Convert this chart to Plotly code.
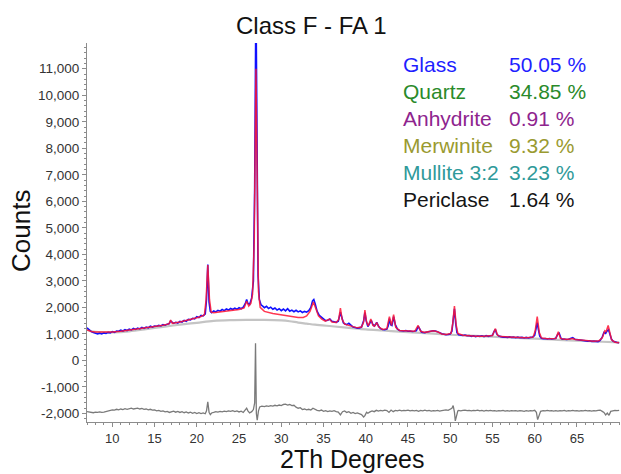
import plotly.graph_objects as go

# ---------------- data ----------------
title_text = "Class F - FA 1"
x_title = "2Th Degrees"
y_title = "Counts"

phase_names = ["Glass", "Quartz", "Anhydrite", "Merwinite", "Mullite 3:2", "Periclase"]
phase_values = ["50.05 %", "34.85 %", "0.91 %", "9.32 %", "3.23 %", "1.64 %"]
phase_colors = ["#1f1fff", "#2a8a2a", "#8e248e", "#9a9a30", "#2f9a9a", "#151515"]

x_tick_vals = [10, 15, 20, 25, 30, 35, 40, 45, 50, 55, 60, 65]
x_tick_text = ["10", "15", "20", "25", "30", "35", "40", "45", "50", "55", "60", "65"]
y_tick_vals = [-2000, -1000, 0, 1000, 2000, 3000, 4000, 5000, 6000, 7000, 8000, 9000, 10000, 11000]
y_tick_text = ["-2,000", "-1,000", "0", "1,000", "2,000", "3,000", "4,000", "5,000",
               "6,000", "7,000", "8,000", "9,000", "10,000", "11,000"]

observed_pts = [
    (7.0, 1230), (7.25, 1150), (7.5, 1090), (7.75, 1050), (8.0, 1030), (8.25, 1000), (8.5, 1030),
    (8.75, 1000), (9.0, 1040), (9.25, 1020), (9.5, 1060), (9.75, 1040), (10.0, 1090), (10.25, 1060),
    (10.5, 1110), (10.75, 1100), (11.0, 1140), (11.25, 1110), (11.5, 1160), (11.75, 1130), (12.0, 1180),
    (12.25, 1150), (12.5, 1210), (12.75, 1170), (13.0, 1220), (13.25, 1190), (13.5, 1250), (13.75, 1210),
    (14.0, 1260), (14.25, 1230), (14.5, 1290), (14.75, 1260), (15.0, 1300), (15.25, 1290), (15.5, 1320),
    (15.75, 1300), (16.0, 1350), (16.25, 1330), (16.5, 1370), (16.75, 1390), (16.9, 1490), (17.1, 1420),
    (17.25, 1400), (17.5, 1440), (17.75, 1410), (18.0, 1470), (18.25, 1450), (18.5, 1510), (18.75, 1480),
    (19.0, 1550), (19.25, 1530), (19.5, 1590), (19.75, 1570), (20.0, 1650), (20.25, 1620), (20.5, 1700),
    (20.75, 1680), (21.0, 1760), (21.15, 2300), (21.3, 3620), (21.45, 2200), (21.6, 1850), (21.75, 1800),
    (22.0, 1870), (22.25, 1830), (22.5, 1890), (22.75, 1860), (23.0, 1920), (23.25, 1880), (23.5, 1940),
    (23.75, 1900), (24.0, 1960), (24.25, 1920), (24.5, 1970), (24.75, 1930), (25.0, 1990), (25.25, 1950),
    (25.5, 2010), (25.75, 2150), (25.9, 2300), (26.05, 2150), (26.25, 2110), (26.5, 2360), (26.7, 3000),
    (26.85, 6500), (27.0, 13800), (27.1, 8000), (27.25, 3200), (27.4, 2300), (27.6, 2100), (27.8, 2050),
    (28.0, 1990), (28.25, 2040), (28.5, 1960), (28.75, 2010), (29.0, 1930), (29.25, 1980), (29.5, 1900),
    (29.75, 1950), (30.0, 1880), (30.25, 1940), (30.5, 1870), (30.75, 1950), (31.0, 1860), (31.25, 1900),
    (31.5, 1840), (31.75, 1890), (32.0, 1830), (32.25, 1870), (32.5, 1810), (32.75, 1850), (33.0, 1820),
    (33.25, 1880), (33.5, 2000), (33.7, 2250), (33.85, 2300), (34.0, 2150), (34.25, 1850), (34.5, 1700),
    (34.75, 1620), (35.0, 1560), (35.25, 1500), (35.5, 1520), (35.75, 1560), (36.0, 1480), (36.25, 1460),
    (36.5, 1440), (36.75, 1480), (37.0, 1820), (37.15, 1650), (37.35, 1420), (37.5, 1380), (37.75, 1350),
    (38.0, 1400), (38.25, 1330), (38.5, 1260), (38.75, 1240), (39.0, 1220), (39.25, 1230), (39.5, 1260),
    (39.75, 1500), (39.9, 1800), (40.05, 1500), (40.25, 1280), (40.5, 1420), (40.65, 1520), (40.85, 1350),
    (41.0, 1300), (41.15, 1350), (41.3, 1440), (41.5, 1300), (41.75, 1200), (42.0, 1170), (42.25, 1160),
    (42.5, 1180), (42.65, 1300), (42.8, 1580), (42.95, 1350), (43.1, 1320), (43.3, 1650), (43.5, 1350),
    (43.75, 1180), (44.0, 1130), (44.25, 1120), (44.5, 1110), (44.75, 1130), (45.0, 1100), (45.25, 1110),
    (45.5, 1090), (45.75, 1100), (46.0, 1130), (46.2, 1290), (46.4, 1150), (46.6, 1070), (46.75, 1060),
    (47.0, 1050), (47.25, 1070), (47.5, 1090), (47.75, 1110), (48.0, 1120), (48.25, 1110), (48.5, 1090),
    (48.75, 1050), (49.0, 1010), (49.25, 980), (49.5, 970), (49.75, 980), (50.0, 1000), (50.2, 1100),
    (50.35, 1500), (50.5, 1950), (50.65, 1400), (50.8, 1050), (51.0, 970), (51.25, 950), (51.5, 940),
    (51.75, 960), (52.0, 930), (52.25, 940), (52.5, 910), (52.75, 930), (53.0, 900), (53.25, 920),
    (53.5, 910), (53.75, 930), (54.0, 900), (54.25, 940), (54.5, 910), (54.75, 930), (55.0, 950),
    (55.2, 1100), (55.35, 1170), (55.5, 1000), (55.75, 920), (56.0, 900), (56.25, 880), (56.5, 890),
    (56.75, 870), (57.0, 890), (57.25, 870), (57.5, 880), (57.75, 860), (58.0, 880), (58.25, 860),
    (58.5, 870), (58.75, 850), (59.0, 870), (59.25, 850), (59.5, 870), (59.75, 880), (60.0, 950),
    (60.15, 1150), (60.3, 1430), (60.45, 1150), (60.6, 920), (60.8, 840), (61.0, 820), (61.25, 830),
    (61.5, 810), (61.75, 830), (62.0, 810), (62.25, 820), (62.5, 840), (62.75, 1000), (62.9, 1030),
    (63.1, 850), (63.25, 800), (63.5, 810), (63.75, 790), (64.0, 800), (64.25, 820), (64.5, 860),
    (64.75, 800), (65.0, 790), (65.25, 770), (65.5, 760), (65.75, 740), (66.0, 750), (66.25, 730),
    (66.5, 740), (66.75, 720), (67.0, 730), (67.25, 720), (67.5, 710), (67.75, 760), (68.0, 880),
    (68.2, 1060), (68.4, 1020), (68.6, 1130), (68.75, 1160), (68.9, 1000), (69.1, 800), (69.3, 720),
    (69.5, 690), (69.75, 680), (70.0, 670),
]

calculated_pts = [
    (7.0, 1150), (7.5, 1090), (8.0, 1070), (9.0, 1060), (10.0, 1070), (11.0, 1100), (12.0, 1140),
    (13.0, 1180), (14.0, 1230), (15.0, 1280), (16.0, 1330), (16.7, 1380), (16.9, 1520), (17.1, 1400),
    (18.0, 1450), (19.0, 1520), (20.0, 1610), (20.5, 1660), (20.9, 1720), (21.1, 2300), (21.3, 3600),
    (21.5, 2300), (21.7, 1820), (22.0, 1800), (23.0, 1840), (24.0, 1880), (25.0, 1920), (25.6, 1980),
    (25.9, 2230), (26.15, 2050), (26.4, 2150), (26.6, 2500), (26.8, 4500), (27.0, 11000), (27.15, 5500),
    (27.3, 2600), (27.5, 2000), (28.0, 1850), (29.0, 1770), (30.0, 1720), (31.0, 1690), (32.0, 1620),
    (32.6, 1620), (33.0, 1680), (33.4, 1850), (33.8, 2200), (34.1, 1950), (34.4, 1680), (34.8, 1560),
    (35.2, 1480), (35.7, 1560), (36.0, 1450), (36.5, 1430), (36.8, 1550), (37.0, 1970), (37.2, 1550),
    (37.5, 1370), (38.0, 1320), (38.5, 1260), (39.0, 1230), (39.5, 1260), (39.75, 1450), (39.9, 1900),
    (40.1, 1450), (40.3, 1300), (40.6, 1560), (40.85, 1320), (41.05, 1300), (41.3, 1430), (41.55, 1260),
    (42.0, 1170), (42.5, 1200), (42.8, 1650), (43.05, 1320), (43.3, 1730), (43.55, 1250), (44.0, 1130),
    (45.0, 1100), (45.8, 1100), (46.2, 1320), (46.5, 1100), (47.0, 1060), (47.5, 1090), (48.0, 1120),
    (48.5, 1080), (49.0, 1000), (49.5, 980), (50.1, 1020), (50.3, 1400), (50.5, 2050), (50.7, 1350),
    (50.9, 1020), (51.5, 950), (52.0, 930), (53.0, 910), (54.0, 910), (55.0, 940), (55.35, 1200),
    (55.6, 950), (56.0, 900), (57.0, 880), (58.0, 870), (59.0, 860), (59.8, 880), (60.05, 1100),
    (60.3, 1650), (60.55, 1050), (60.8, 850), (61.5, 820), (62.5, 830), (62.8, 1080), (63.05, 830),
    (63.5, 800), (64.0, 800), (64.5, 830), (64.8, 790), (65.5, 760), (66.0, 740), (67.0, 720),
    (67.6, 740), (68.0, 850), (68.3, 1120), (68.45, 1080), (68.7, 1320), (68.9, 1050), (69.1, 780),
    (69.5, 690), (70.0, 670),
]

background_pts = [
    (7.0, 1150), (8.0, 1080), (9.0, 1060), (10.0, 1060), (12.0, 1100), (14.0, 1180), (16.0, 1270),
    (18.0, 1350), (20.0, 1420), (22.0, 1490), (24.0, 1520), (26.0, 1530), (28.0, 1530), (30.0, 1510),
    (31.0, 1480), (32.0, 1430), (33.0, 1390), (34.0, 1350), (36.0, 1290), (38.0, 1230), (40.0, 1170),
    (42.0, 1130), (44.0, 1090), (46.0, 1050), (48.0, 1010), (50.0, 970), (52.0, 940), (54.0, 910),
    (56.0, 880), (58.0, 850), (60.0, 820), (62.0, 790), (64.0, 760), (66.0, 735), (68.0, 705),
    (70.0, 680),
]

difference_pts = [
    (7.0, -1930), (7.25, -1950), (7.5, -1960), (7.75, -1970), (8.0, -1950), (8.25, -1960), (8.5, -1940),
    (8.75, -1960), (9.0, -1950), (9.25, -1930), (9.5, -1890), (9.75, -1880), (10.0, -1860), (10.25, -1870),
    (10.5, -1840), (10.75, -1860), (11.0, -1830), (11.25, -1850), (11.5, -1820), (11.75, -1840),
    (12.0, -1820), (12.25, -1800), (12.5, -1830), (12.75, -1810), (13.0, -1800), (13.25, -1830),
    (13.5, -1810), (13.75, -1840), (14.0, -1830), (14.25, -1860), (14.5, -1840), (14.75, -1870),
    (15.0, -1860), (15.25, -1900), (15.5, -1880), (15.75, -1920), (16.0, -1900), (16.25, -1940),
    (16.5, -1920), (16.75, -1960), (17.0, -1940), (17.25, -1910), (17.5, -1950), (17.75, -1920),
    (18.0, -1960), (18.25, -1930), (18.5, -1970), (18.75, -1940), (19.0, -1980), (19.25, -1950),
    (19.5, -1990), (19.75, -1960), (20.0, -2000), (20.25, -1970), (20.5, -2000), (20.75, -1980),
    (21.0, -2010), (21.15, -1900), (21.3, -1560), (21.45, -1950), (21.6, -2040), (21.75, -1980),
    (22.0, -1960), (22.25, -1930), (22.5, -1950), (22.75, -1920), (23.0, -1940), (23.25, -1910),
    (23.5, -1930), (23.75, -1900), (24.0, -1920), (24.25, -1890), (24.5, -1930), (24.75, -1900),
    (25.0, -1940), (25.25, -1910), (25.5, -1960), (25.75, -1880), (25.9, -1800), (26.05, -1900),
    (26.25, -1980), (26.5, -1930), (26.7, -1850), (26.85, -1600), (26.95, 650), (27.05, -2000),
    (27.15, -2250), (27.3, -1900), (27.45, -1750), (27.7, -1720), (28.0, -1740), (28.25, -1710),
    (28.5, -1730), (28.75, -1700), (29.0, -1720), (29.25, -1690), (29.5, -1710), (29.75, -1680),
    (30.0, -1700), (30.25, -1660), (30.5, -1650), (30.75, -1680), (31.0, -1660), (31.25, -1700),
    (31.5, -1690), (31.75, -1760), (32.0, -1800), (32.25, -1780), (32.5, -1850), (32.75, -1830),
    (33.0, -1860), (33.25, -1840), (33.5, -1870), (33.75, -1800), (34.0, -1850), (34.25, -1880),
    (34.5, -1900), (34.75, -1870), (35.0, -1920), (35.25, -1890), (35.5, -1930), (35.75, -1900),
    (36.0, -1920), (36.25, -1890), (36.5, -1930), (36.75, -1950), (37.0, -2050), (37.25, -1930),
    (37.5, -1900), (37.75, -1960), (38.0, -1930), (38.25, -1990), (38.5, -1960), (38.75, -2000),
    (39.0, -1980), (39.25, -2010), (39.5, -2040), (39.75, -2130), (39.9, -2080), (40.1, -1950),
    (40.25, -1990), (40.5, -1940), (40.75, -1900), (41.0, -1930), (41.25, -1880), (41.5, -1910),
    (41.75, -1880), (42.0, -1900), (42.25, -1870), (42.5, -1890), (42.75, -1960), (43.0, -1870),
    (43.25, -1930), (43.5, -1880), (43.75, -1900), (44.0, -1870), (44.25, -1900), (44.5, -1880),
    (44.75, -1890), (45.0, -1870), (45.25, -1900), (45.5, -1880), (45.75, -1900), (46.0, -1880),
    (46.25, -1920), (46.5, -1880), (46.75, -1900), (47.0, -1870), (47.25, -1900), (47.5, -1880),
    (47.75, -1910), (48.0, -1890), (48.25, -1900), (48.5, -1880), (48.75, -1910), (49.0, -1890),
    (49.25, -1880), (49.5, -1860), (49.75, -1880), (50.0, -1850), (50.2, -1800), (50.35, -1700),
    (50.5, -1950), (50.6, -2280), (50.75, -2050), (50.9, -1900), (51.0, -1880), (51.25, -1900),
    (51.5, -1880), (51.75, -1870), (52.0, -1890), (52.25, -1880), (52.5, -1900), (52.75, -1880),
    (53.0, -1890), (53.25, -1870), (53.5, -1900), (53.75, -1880), (54.0, -1910), (54.25, -1880),
    (54.5, -1900), (54.75, -1880), (55.0, -1900), (55.25, -1890), (55.5, -1910), (55.75, -1890),
    (56.0, -1900), (56.25, -1880), (56.5, -1910), (56.75, -1890), (57.0, -1910), (57.25, -1890),
    (57.5, -1900), (57.75, -1890), (58.0, -1910), (58.25, -1890), (58.5, -1900), (58.75, -1920),
    (59.0, -1890), (59.25, -1910), (59.5, -1890), (59.75, -1900), (60.0, -1880), (60.2, -1950),
    (60.35, -2230), (60.5, -2050), (60.7, -1920), (61.0, -1890), (61.25, -1900), (61.5, -1880),
    (61.75, -1900), (62.0, -1890), (62.25, -1910), (62.5, -1890), (62.75, -1910), (63.0, -1890),
    (63.25, -1900), (63.5, -1880), (63.75, -1910), (64.0, -1890), (64.25, -1900), (64.5, -1880),
    (64.75, -1900), (65.0, -1890), (65.25, -1910), (65.5, -1890), (65.75, -1900), (66.0, -1880),
    (66.25, -1900), (66.5, -1890), (66.75, -1910), (67.0, -1890), (67.25, -1900), (67.5, -1880),
    (67.75, -1870), (68.0, -1920), (68.2, -1960), (68.4, -2050), (68.6, -1980), (68.8, -2070),
    (69.0, -1920), (69.25, -1900), (69.5, -1880), (69.75, -1890), (70.0, -1880),
]

# ---------------- figure ----------------
W, H = 621, 474
L, R, T, B = 87, 1, 43, 52
PW, PH = W - L - R, H - T - B


def px(xp):
    return (xp - L) / PW


def py(yp):
    return (H - B - yp) / PH


FONT = "Arial, 'Liberation Sans', sans-serif"

fig = go.Figure()

bx, by = zip(*background_pts)
ox, oy = zip(*observed_pts)
cx, cy = zip(*calculated_pts)
dx, dy = zip(*difference_pts)

fig.add_trace(go.Scatter(x=bx, y=by, mode="lines", line=dict(color="#c4c4c4", width=2.2, shape="spline"),
                         hoverinfo="skip"))
fig.add_trace(go.Scatter(x=dx, y=dy, mode="lines", line=dict(color="#7a7a7a", width=1.3), hoverinfo="skip"))
fig.add_trace(go.Scatter(x=ox, y=oy, mode="lines", line=dict(color="#1010ff", width=1.6), hoverinfo="skip"))
fig.add_trace(go.Scatter(x=cx, y=cy, mode="lines", line=dict(color="rgba(255,20,50,0.85)", width=1.5),
                         hoverinfo="skip"))

annotations = [
    dict(text=title_text, x=px(311), y=py(25), xref="paper", yref="paper", xanchor="center",
         yanchor="middle", showarrow=False, font=dict(family=FONT, size=24, color="#111")),
    dict(text=x_title, x=px(352), y=py(459.5), xref="paper", yref="paper", xanchor="center",
         yanchor="middle", showarrow=False, font=dict(family=FONT, size=25, color="#111")),
    dict(text=y_title, x=px(21), y=py(231), xref="paper", yref="paper", xanchor="center",
         yanchor="middle", textangle=-90, showarrow=False, font=dict(family=FONT, size=26, color="#111")),
]
row_y = [64, 91, 118, 145, 172, 200]
for name, val, col, yy in zip(phase_names, phase_values, phase_colors, row_y):
    annotations.append(dict(text=name, x=px(401), y=py(yy), xref="paper", yref="paper", xanchor="left",
                            yanchor="middle", showarrow=False, font=dict(family=FONT, size=21, color=col)))
    annotations.append(dict(text=val, x=px(507), y=py(yy), xref="paper", yref="paper", xanchor="left",
                            yanchor="middle", showarrow=False, font=dict(family=FONT, size=21, color=col)))

fig.update_layout(
    template="none",
    width=W, height=H,
    margin=dict(l=L, r=R, t=T, b=B, pad=0, autoexpand=False),
    paper_bgcolor="white", plot_bgcolor="white",
    showlegend=False,
    annotations=annotations,
    xaxis=dict(range=[7, 70.1], automargin=False, showgrid=False, zeroline=False, showline=True,
               linecolor="#8c8c8c", linewidth=1, ticks="outside", ticklen=4, tickcolor="#8c8c8c", tickwidth=1,
               tickvals=x_tick_vals, ticktext=x_tick_text,
               tickfont=dict(family=FONT, size=13, color="#333"),
               minor=dict(dtick=1, tick0=0, ticks="outside", ticklen=2, tickcolor="#8c8c8c", showgrid=False)),
    yaxis=dict(range=[-2320, 11970], automargin=False, showgrid=False, zeroline=False, showline=True,
               linecolor="#8c8c8c", linewidth=1, ticks="outside", ticklen=4, tickcolor="#8c8c8c", tickwidth=1,
               tickvals=y_tick_vals, ticktext=y_tick_text,
               tickfont=dict(family=FONT, size=13.5, color="#333"),
               minor=dict(dtick=200, tick0=0, ticks="outside", ticklen=2, tickcolor="#8c8c8c", showgrid=False)),
)

fig.write_html("out.html", config={"displayModeBar": False},
               post_script="document.body.style.margin='0';document.body.style.padding='0';")
